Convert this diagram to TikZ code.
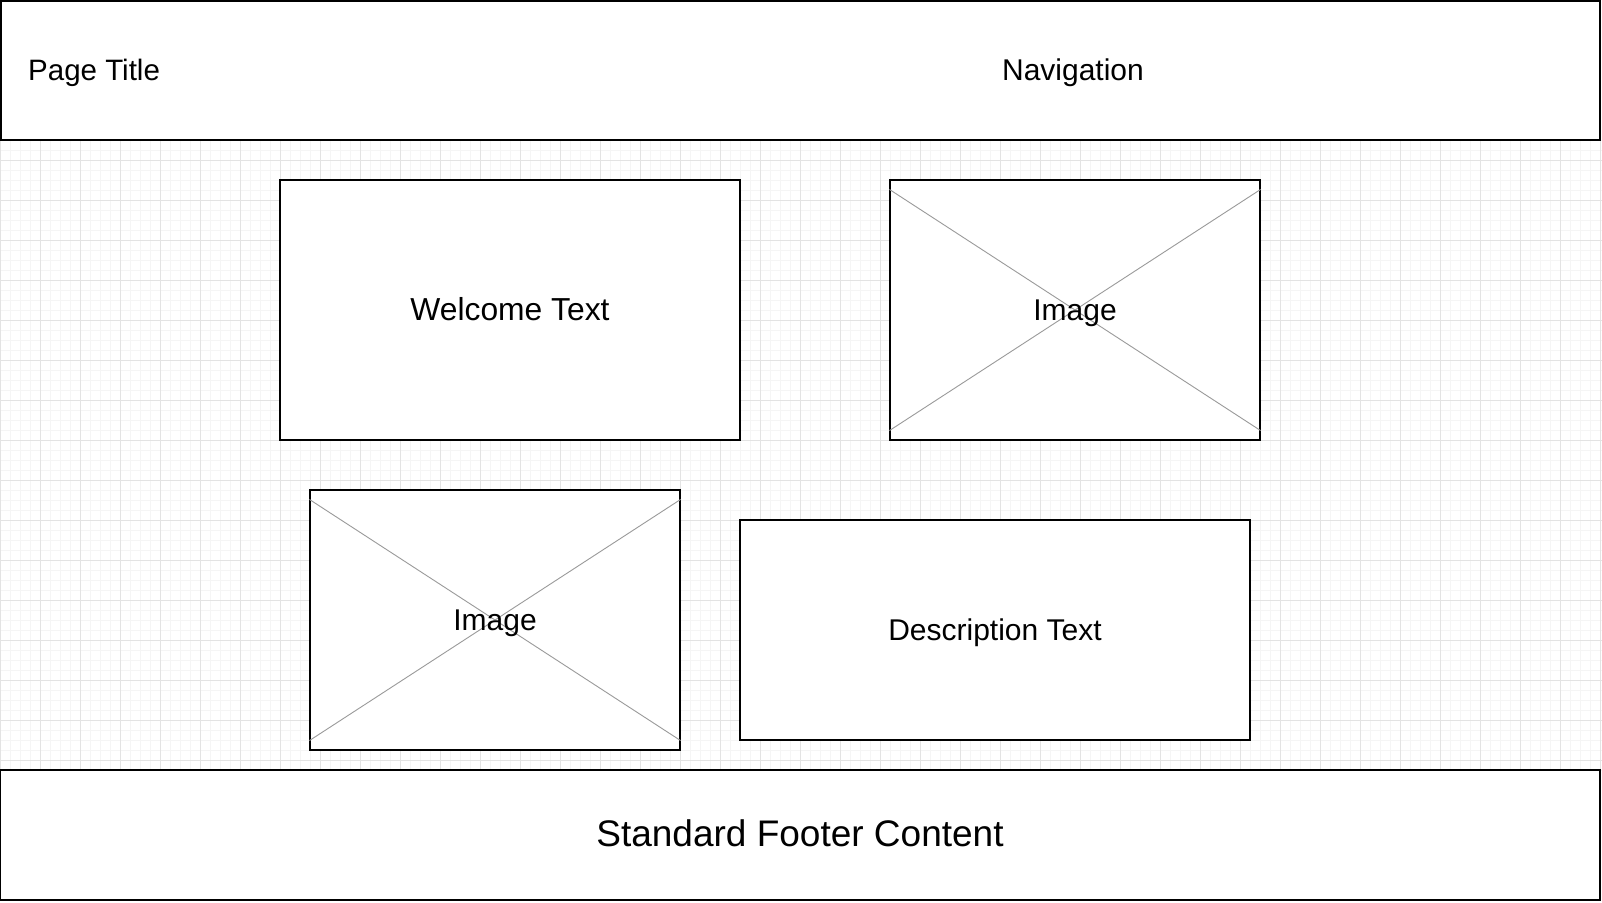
\documentclass[tikz,border=0pt]{standalone}
\usepackage{fontspec}
\setmainfont{Liberation Sans}
\usetikzlibrary{calc}
\definecolor{gridminor}{HTML}{F5F5F5}
\definecolor{gridmajor}{HTML}{E3E3E3}
\definecolor{crossgray}{HTML}{9A9A9A}
\tikzset{
  panel/.style={draw=black, line width=1.1pt, fill=white, inner sep=0pt},
  label30/.style={font=\fontsize{30}{36}\selectfont, text height=21.5pt, text depth=0pt, inner sep=0pt},
  label36/.style={font=\fontsize{37}{44}\selectfont, text height=26.5pt, text depth=0pt, inner sep=0pt},
  cross/.style={draw=crossgray, line width=0.9pt}
}
\begin{document}
\begin{tikzpicture}[x=1pt, y=-1pt]
  \useasboundingbox (0,0) rectangle (1602,902);
  \fill[white] (0,0) rectangle (1602,902);

  % background grid of the canvas
  \foreach \gx in {0,10,...,1600} \draw[gridminor, line width=0.7pt] (\gx,140) -- (\gx,770);
  \foreach \gy in {140,150,...,770} \draw[gridminor, line width=0.7pt] (0,\gy) -- (1602,\gy);
  \foreach \gx in {0,40,...,1600} \draw[gridmajor, line width=1pt] (\gx,140) -- (\gx,770);
  \foreach \gy in {160,200,...,760} \draw[gridmajor, line width=1pt] (0,\gy) -- (1602,\gy);

  % header and footer bars
  \node[panel, minimum width=1599pt, minimum height=139pt] (header) at (800.5,70.5) {};
  \node[label30, font=\fontsize{29.5}{36}\selectfont, anchor=west] (title) at (28,70) {Page Title};
  \node[label30] (nav) at (1073,70) {Navigation};

  \node[panel, minimum width=1600pt, minimum height=130pt] (footer) at (800,835) {};
  \node[label36] (footertext) at ($(footer.center)+(0,-1.5)$) {Standard Footer Content};

  % content blocks
  \node[panel, minimum width=460pt, minimum height=260pt] (welcome) at (510,310) {};
  \node[label30, font=\fontsize{31.8}{38}\selectfont] (welcometext) at (welcome.center) {Welcome Text};

  \node[panel, minimum width=370pt, minimum height=260pt] (img1) at (1075,310) {};
  \draw[cross] ($(img1.north west)+(0,10)$) -- ($(img1.south east)+(0,-10)$);
  \draw[cross] ($(img1.south west)+(0,-10)$) -- ($(img1.north east)+(0,10)$);
  \node[label30] (img1text) at (img1.center) {Image};

  \node[panel, minimum width=370pt, minimum height=260pt] (img2) at (495,620) {};
  \draw[cross] ($(img2.north west)+(0,10)$) -- ($(img2.south east)+(0,-10)$);
  \draw[cross] ($(img2.south west)+(0,-10)$) -- ($(img2.north east)+(0,10)$);
  \node[label30] (img2text) at (img2.center) {Image};

  \node[panel, minimum width=510pt, minimum height=220pt] (desc) at (995,630) {};
  \node[label30] (desctext) at (desc.center) {Description Text};
\end{tikzpicture}
\end{document}
